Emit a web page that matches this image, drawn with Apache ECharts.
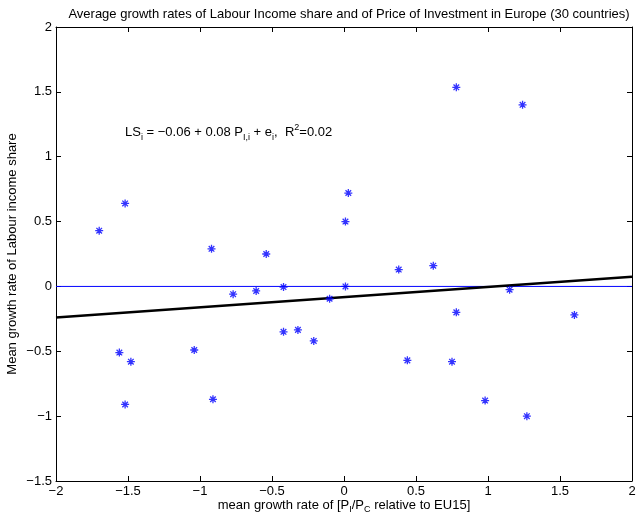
<!DOCTYPE html>
<html><head><meta charset="utf-8">
<script src="https://cdn.jsdelivr.net/npm/echarts@6/dist/echarts.min.js"></script>
<style>html,body{margin:0;padding:0;background:#fff}#c{width:636px;height:518px}</style>
</head><body><div id="c"></div>
<script>
var priceGrowth = [-1.70,-1.52,-0.92,-0.54,-0.77,-0.61,-0.42,0.01,0.03,0.01,-0.10,-0.42,-0.32,-0.21,-1.56,-1.48,-1.04,-1.52,-0.91,
                   0.78,1.24,0.38,0.62,1.15,0.78,1.60,0.44,0.75,0.98,1.27];
var laborGrowth = [0.43,0.64,0.29,0.25,-0.06,-0.035,-0.005,0.50,0.72,0.0,-0.095,-0.35,-0.335,-0.42,-0.51,-0.58,-0.49,-0.91,-0.87,
                   1.535,1.40,0.13,0.16,-0.025,-0.20,-0.22,-0.57,-0.58,-0.88,-1.00];
var fitX = [-2, 2];
var fitY = [-0.24, 0.075];
var zeroX = [-2, 2];
var zeroY = [0, 0];
var xTicks = ['−2','−1.5','−1','−0.5','0','0.5','1','1.5','2'];
var yTicks = ['−1.5','−1','−0.5','0','0.5','1','1.5','2'];

var font = 'Liberation Sans, Arial, Helvetica, sans-serif';
var FS = 13;
var chart = echarts.init(document.getElementById('c'), null, {renderer:'canvas'});
function fmt(v){ return String(v).replace('-', '−'); }
var scatter = priceGrowth.map(function(x,i){ return [x, laborGrowth[i]]; });
var star = 'path://M0,5L10,5M5,0L5,10M1.5,1.5L8.5,8.5M8.5,1.5L1.5,8.5';
var axisCommon = {
  type:'value', axisLine:{show:true, onZero:false, lineStyle:{color:'#000', width:1}},
  axisTick:{show:true, inside:true, length:5, lineStyle:{color:'#000'}},
  splitLine:{show:false}, nameMoveOverlap:false
};
chart.setOption({
  animation:false,
  title:{text:'Average growth rates of Labour Income share and of Price of Investment in Europe (30 countries)',
    left:344, textAlign:'center', top:3, textStyle:{fontFamily:font, fontSize:FS, fontWeight:'normal', color:'#000'}},
  grid:{left:56, top:27, right:4, bottom:37, containLabel:false, outerBoundsMode:'none'},
  xAxis:[
    Object.assign({}, axisCommon, {min:-2, max:2, interval:0.5, position:'bottom',
      name:'{s|mean growth rate of [P}{sub|I}{s|/P}{sub|C}{s| relative to EU15]}', nameLocation:'middle', nameGap:14,
      nameTextStyle:{fontFamily:font, fontSize:FS, color:'#000', verticalAlign:'top',
        rich:{s:{fontFamily:font,fontSize:FS,color:'#000',lineHeight:20}, sub:{fontFamily:font,fontSize:9,color:'#000',lineHeight:20,padding:[9,0,0,0]}}},
      axisLabel:{fontFamily:font, fontSize:FS, color:'#000', margin:4, formatter:function(v){return fmt(v);}}}),
    Object.assign({}, axisCommon, {min:-2, max:2, interval:0.5, position:'top', axisLabel:{show:false}})
  ],
  yAxis:[
    Object.assign({}, axisCommon, {min:-1.5, max:2, interval:0.5, position:'left',
      name:'Mean growth rate of Labour income share', nameLocation:'middle', nameGap:37, nameRotate:90,
      nameTextStyle:{fontFamily:font, fontSize:FS, color:'#000'},
      axisLabel:{fontFamily:font, fontSize:FS, color:'#000', margin:4, formatter:function(v){return fmt(v);}}}),
    Object.assign({}, axisCommon, {min:-1.5, max:2, interval:0.5, position:'right', axisLabel:{show:false}})
  ],
  series:[
    {type:'line', data:zeroX.map(function(x,i){return [x, zeroY[i]];}), symbol:'none', lineStyle:{color:'#0000ff', width:1}, z:2},
    {type:'line', data:fitX.map(function(x,i){return [x, fitY[i]];}), symbol:'none', lineStyle:{color:'#000', width:2.5}, z:3},
    {type:'scatter', data:scatter, symbol:star, symbolSize:8,
      itemStyle:{color:'rgba(0,0,0,0)', borderColor:'#0000ff', borderWidth:1.3}, z:4}
  ],
  graphic:[{type:'text', left:125, top:123, style:{
    text:'{n|LS}{sub|i}{n| = −0.06 + 0.08 P}{sub|I,i}{n| + e}{sub|i}{n|,  R}{sup|2}{n|=0.02}',
    rich:{n:{fontFamily:font, fontSize:FS, fill:'#000', lineHeight:20},
          sub:{fontFamily:font, fontSize:9, fill:'#000', lineHeight:20, padding:[10,0,0,0]},
          sup:{fontFamily:font, fontSize:9, fill:'#000', lineHeight:20, padding:[0,0,9,0]}}}}]
});
</script></body></html>
